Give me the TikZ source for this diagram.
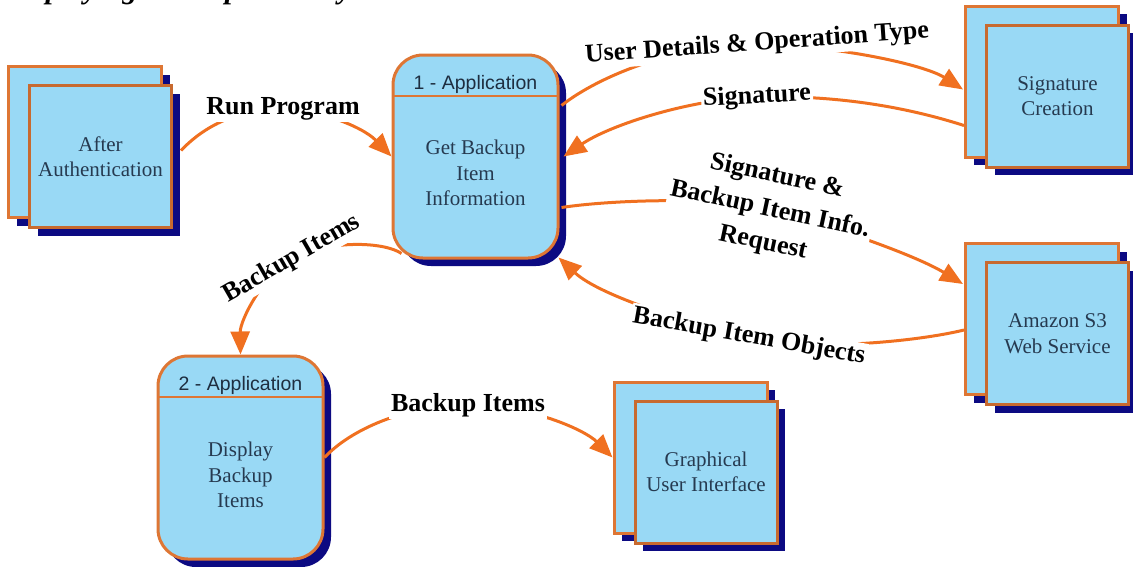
\documentclass[tikz,border=0pt]{standalone}
\usepackage{fontspec}
\setmainfont{Liberation Serif}
\newfontfamily\headfont{Liberation Sans}
\usetikzlibrary{arrows.meta,shadows}
\definecolor{boxfill}{RGB}{153,217,245}
\definecolor{boxline}{RGB}{222,118,52}
\definecolor{flowc}{RGB}{240,112,32}
\definecolor{shadowc}{RGB}{12,10,130}
\definecolor{boxtext}{RGB}{38,58,80}
\pgfdeclarelayer{bg}
\pgfdeclarelayer{fg}
\pgfsetlayers{bg,main,fg}
\tikzset{
  navyshadow/.style={drop shadow={shadow xshift=8pt,shadow yshift=-8pt,fill=shadowc,opacity=1}},
  stackback/.style={draw=boxline,line width=3pt,fill=boxfill,minimum width=153pt,minimum height=151pt,inner sep=0pt,navyshadow},
  stackfront/.style={draw=boxline!90!black,line width=3pt,fill=boxfill,minimum width=142pt,minimum height=142pt,inner sep=0pt,navyshadow,
    align=center,font=\fontsize{21}{25.5}\selectfont,text=boxtext},
  procbox/.style={draw=boxline,line width=3pt,fill=boxfill,rounded corners=30pt,minimum width=165pt,minimum height=203pt,inner sep=0pt,navyshadow},
  divider/.style={draw=boxline,line width=2pt},
  headtext/.style={font=\headfont\fontsize{19.5}{23}\selectfont,text=boxtext!80!black,inner sep=0pt},
  bodytext/.style={font=\fontsize{21}{25.5}\selectfont,text=boxtext,align=center,inner sep=0pt},
  flowlabel/.style={font=\fontsize{26}{31}\selectfont\bfseries,fill=white,inner sep=2pt,align=center},
  flow/.style={draw=flowc,line width=3pt},
  flowarrow/.style={flow,-{Triangle[length=23pt,width=19pt]}}
}
\begin{document}
\begin{tikzpicture}[x=1pt,y=-1pt]
\useasboundingbox (0,0) rectangle (1133,566);

\node[anchor=base west,font=\fontsize{30}{36}\selectfont\bfseries\itshape,inner sep=0pt] (title) at (4,-2) {Displaying Backup Items by User};

\begin{pgfonlayer}{bg}
  \node[stackback] (authB) at (85,142) {};
  \node[stackfront] (auth) at (100.5,156.5) {After\\Authentication};
  \node[stackback] (sigB) at (1042,81.5) {};
  \node[stackfront] (sig) at (1057.5,96) {Signature\\Creation};
  \node[stackback] (amzB) at (1042,319) {};
  \node[stackfront] (amz) at (1057.5,333.5) {Amazon S3\\Web Service};
  \node[stackback] (guiB) at (690.5,457.5) {};
  \node[stackfront] (gui) at (706,472) {Graphical\\User Interface};

  \node[procbox] (app1) at (475.5,156.5) {};
  \draw[divider] ([shift={(1.5,42)}]app1.north west) -- ([shift={(-1.5,42)}]app1.north east);
  \node[headtext] (app1h) at (475.5,84) {1 - Application};
  \node[bodytext] (app1b) at (475.5,173) {Get Backup\\Item\\Information};

  \node[procbox] (app2) at (240.5,457.5) {};
  \draw[divider] ([shift={(1.5,42)}]app2.north west) -- ([shift={(-1.5,42)}]app2.north east);
  \node[headtext] (app2h) at (240.5,385) {2 - Application};
  \node[bodytext] (app2b) at (240.5,475) {Display\\Backup\\Items};
\end{pgfonlayer}

\begin{pgfonlayer}{fg}
  \node[flowlabel] (runlbl) at (283,109) {Run Program};
  \node[flowlabel,rotate=4] (udlbl) at (757,44) {User Details \& Operation Type};
  \node[flowlabel,rotate=3] (siglbl) at (757,97) {Signature};
  \node[flowlabel,rotate=-12,font=\fontsize{26}{34}\selectfont\bfseries] (sbilbl) at (770,210) {Signature \&\\Backup Item Info.\\Request};
  \node[flowlabel,rotate=-10] (biolbl) at (749,337) {Backup Item Objects};
  \node[flowlabel,rotate=30] (bi1lbl) at (292,259) {Backup Items};
  \node[flowlabel] (bi2lbl) at (468,405) {Backup Items};
\end{pgfonlayer}

\draw[flowarrow] ([shift={(8,-6)}]auth.east) .. controls (212,118) and (250,109) .. (runlbl.center)
  .. controls (316,109) and (362,126) .. (app1.west);
\draw[flowarrow] ([shift={(2,-51)}]app1.east) .. controls (600,75) and (680,44) .. (udlbl.center)
  .. controls (840,46) and (925,65) .. ([shift={(-1,8)}]sigB.west);
\draw[flowarrow] ([shift={(0,44)}]sigB.west) .. controls (900,105) and (830,95) .. (siglbl.center)
  .. controls (690,99) and (610,125) .. ([xshift=4pt]app1.east);
\draw[flowarrow] ([shift={(2,51)}]app1.east) .. controls (610,200) and (720,196) .. (sbilbl.center)
  .. controls (830,225) and (915,255) .. ([shift={(-1,-35)}]amzB.west);
\draw[flowarrow] ([shift={(0,11)}]amzB.west) .. controls (915,342) and (805,352) .. (biolbl.center)
  .. controls (690,324) and (600,296) .. ([shift={(-1,-2)}]app1.south east);
\draw[flowarrow] ([shift={(10,-6)}]app1.south west) .. controls (385,242) and (330,239) .. (bi1lbl.center)
  .. controls (264,274) and (240,320) .. (app2.north);
\draw[flowarrow] (app2.east) .. controls (350,430) and (405,405) .. (bi2lbl.center)
  .. controls (530,405) and (585,430) .. (guiB.west);
\end{tikzpicture}
\end{document}
